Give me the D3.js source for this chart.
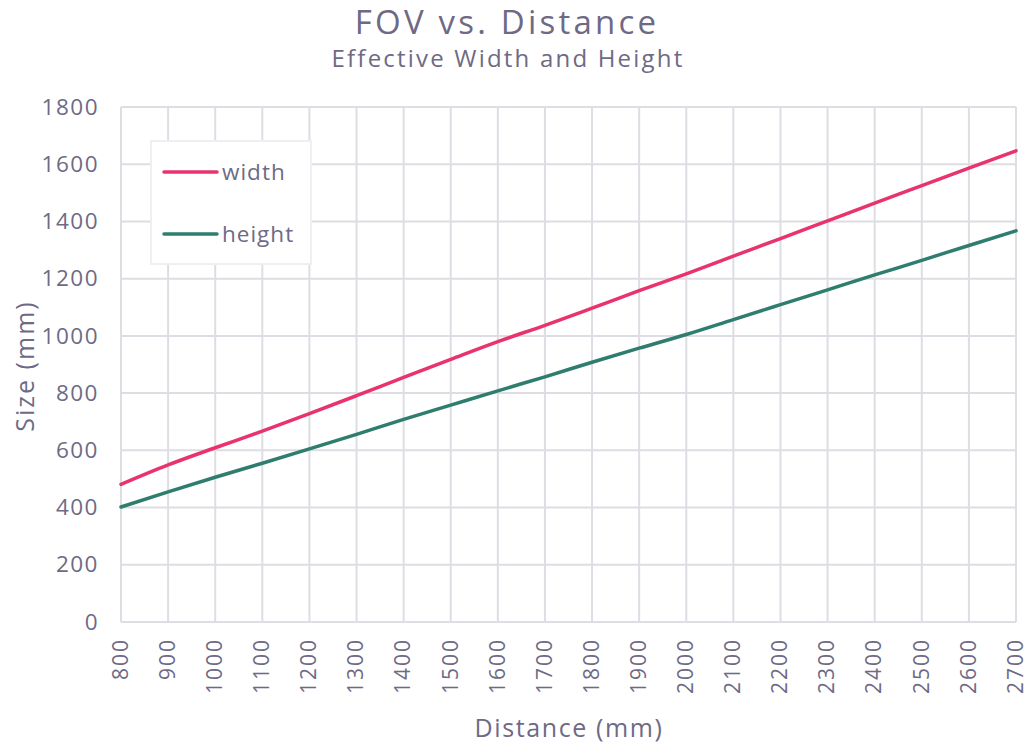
<!DOCTYPE html>
<html>
<head>
<meta charset="utf-8">
<script src="https://cdn.jsdelivr.net/npm/d3@7"></script>
<style>
  body { margin: 0; background: #fff; }
  svg text { font-family: "Open Sans", "Lato", sans-serif; fill: #6e6a85; }
</style>
</head>
<body>
<svg id="chart" width="1029" height="746"></svg>
<script>
// distances (mm) and effective FOV sizes (mm)
const distances = [800, 900, 1000, 1100, 1200, 1300, 1400, 1500, 1600, 1700,
  1800, 1900, 2000, 2100, 2200, 2300, 2400, 2500, 2600, 2700];
const widthVals = [481, 549, 609, 667, 728, 791, 855, 918, 980, 1037,
  1097, 1158, 1217, 1279, 1340, 1402, 1464, 1525, 1586, 1647];
const heightVals = [402, 455, 506, 555, 605, 656, 708, 758, 808, 857,
  908, 957, 1005, 1057, 1109, 1161, 1213, 1264, 1316, 1367];
const yTicks = [0, 200, 400, 600, 800, 1000, 1200, 1400, 1600, 1800];
const seriesNames = ["width", "height"];
const colors = ["#e8336d", "#2e7d6e"];

const margin = { top: 107, right: 13, bottom: 124, left: 121 };
const svg = d3.select("#chart");
const W = 1029, H = 746;
const width = W - margin.left - margin.right;
const height = H - margin.top - margin.bottom;

const x = d3.scaleLinear().domain([800, 2700]).range([0, width]);
const y = d3.scaleLinear().domain([0, 1800]).range([height, 0]);

// titles
svg.append("text")
  .attr("x", 507).attr("y", 34)
  .attr("text-anchor", "middle")
  .style("font-size", "33px")
  .style("letter-spacing", "3.2px")
  .text("FOV vs. Distance");
svg.append("text")
  .attr("x", 508).attr("y", 67)
  .attr("text-anchor", "middle")
  .style("font-size", "24px")
  .style("letter-spacing", "2.2px")
  .text("Effective Width and Height");

const g = svg.append("g")
  .attr("transform", "translate(" + margin.left + "," + margin.top + ")");

// grid
g.append("g").selectAll("line")
  .data(distances)
  .join("line")
  .attr("x1", d => x(d)).attr("x2", d => x(d))
  .attr("y1", 0).attr("y2", height)
  .attr("stroke", "#dedde4").attr("stroke-width", 2);
g.append("g").selectAll("line")
  .data(yTicks)
  .join("line")
  .attr("x1", 0).attr("x2", width)
  .attr("y1", d => y(d)).attr("y2", d => y(d))
  .attr("stroke", "#dedde4").attr("stroke-width", 2);

// axes
const yAxis = g.append("g")
  .call(d3.axisLeft(y).tickValues(yTicks).tickSize(0).tickPadding(22).tickFormat(d3.format("d")));
yAxis.select(".domain").remove();
yAxis.selectAll("text").style("font-size", "22.5px").style("letter-spacing", "1.5px");

const xAxis = g.append("g")
  .attr("transform", "translate(0," + height + ")")
  .call(d3.axisBottom(x).tickValues(distances).tickSize(0).tickFormat(d3.format("d")));
xAxis.select(".domain").remove();
xAxis.selectAll("text")
  .style("font-size", "21px")
  .style("letter-spacing", "2px")
  .attr("text-anchor", "end")
  .attr("transform", "rotate(-90)")
  .attr("x", -16).attr("y", 0).attr("dy", "0.3em");

svg.append("text")
  .attr("x", 569).attr("y", 737)
  .attr("text-anchor", "middle")
  .style("font-size", "25px")
  .style("letter-spacing", "1.6px")
  .text("Distance (mm)");
svg.append("text")
  .attr("transform", "translate(34,366) rotate(-90)")
  .attr("text-anchor", "middle")
  .style("font-size", "25px")
  .style("letter-spacing", "2px")
  .text("Size (mm)");

// lines
const series = [widthVals, heightVals];
const line = d3.line()
  .x((d, i) => x(distances[i]))
  .y(d => y(d))
  .curve(d3.curveMonotoneX);
series.forEach((vals, k) => {
  g.append("path")
    .datum(vals)
    .attr("fill", "none")
    .attr("stroke", colors[k])
    .attr("stroke-width", 3.5)
    .attr("stroke-linecap", "round")
    .attr("d", line);
});

// legend
const legend = svg.append("g").attr("transform", "translate(151,141)");
legend.append("rect")
  .attr("width", 160).attr("height", 123)
  .attr("fill", "#fff")
  .attr("stroke", "#efeff3").attr("stroke-width", 2);
seriesNames.forEach((name, k) => {
  const ly = 31 + k * 62;
  legend.append("line")
    .attr("x1", 13).attr("x2", 66)
    .attr("y1", ly).attr("y2", ly)
    .attr("stroke", colors[k]).attr("stroke-width", 3.5)
    .attr("stroke-linecap", "round");
  legend.append("text")
    .attr("x", 71).attr("y", ly)
    .attr("dy", "0.35em")
    .style("font-size", "22.5px")
    .style("letter-spacing", "1px")
    .text(name);
});
</script>
</body>
</html>
